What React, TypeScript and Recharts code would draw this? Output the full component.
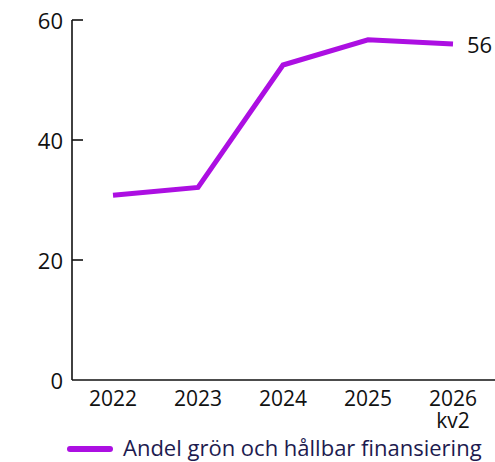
import { LineChart, Line, XAxis, YAxis, Legend, LabelList } from 'recharts'

const years = ['2022', '2023', '2024', '2025', '2026\nkv2']
const andelGron = [30.8, 32.1, 52.5, 56.7, 56]
const yTicks = [0, 20, 40, 60]

const LINE_COLOR = '#AC0FE2'
const FONT = '"Open Sans", sans-serif'

const data = years.map((name, i) => ({ name, value: andelGron[i] }))

const YTick = (props: any) => {
  const { x, y, payload } = props
  return (
    <g>
      {payload.value !== 0 && <line x1={x} x2={x + 11} y1={y} y2={y} stroke="#111" strokeWidth={1.6} />}
      <text x={x - 9} y={y} textAnchor="end" dominantBaseline="central" fontSize={22} fontFamily={FONT} fill="#111">
        {payload.value}
      </text>
    </g>
  )
}

const XTick = (props: any) => {
  const { x, y, payload } = props
  const lines = String(payload.value).split('\n')
  return (
    <text x={x} y={y} textAnchor="middle" fontSize={21} fontFamily={FONT} fill="#111">
      {lines.map((l, i) => (
        <tspan key={i} x={x} dy={i === 0 ? 18 : 22}>{l}</tspan>
      ))}
    </text>
  )
}

const LastLabel = (props: any) => {
  const { x, y, index, value } = props
  if (index !== andelGron.length - 1) return null
  return (
    <text x={x + 14} y={y} dominantBaseline="central" fontSize={22} fontFamily={FONT} fill="#111">
      {value}
    </text>
  )
}

const LegendContent = () => (
  <div style={{ display: 'flex', alignItems: 'center', height: 26, lineHeight: '26px', fontFamily: FONT, fontSize: 22, color: '#1d1b4f', whiteSpace: 'nowrap' }}>
    <span style={{ display: 'inline-block', width: 46, height: 6, borderRadius: 3, background: LINE_COLOR, marginRight: 10, position: 'relative', top: 2 }} />
    <span>Andel grön och hållbar finansiering</span>
  </div>
)

export default function App() {
  return (
    <div style={{ position: 'absolute', left: 0, top: 0, width: 495, height: 462, background: '#fff' }}>
      <LineChart width={495} height={462} data={data} margin={{ top: 20, right: 0, left: 0, bottom: 0 }}>
        <XAxis
          dataKey="name"
          interval={0}
          padding={{ left: 41, right: 42 }}
          tickLine={false}
          axisLine={{ stroke: '#111', strokeWidth: 1.6 }}
          tick={<XTick />}
          height={58}
        />
        <YAxis
          domain={[0, 60]}
          ticks={yTicks}
          width={72}
          tickLine={false}
          tickSize={0}
          tickMargin={0}
          axisLine={{ stroke: '#111', strokeWidth: 1.6 }}
          tick={<YTick />}
        />
        <Legend
          verticalAlign="bottom"
          height={24}
          content={<LegendContent />}
          wrapperStyle={{ top: 434, left: 67, bottom: 'auto', width: 'auto' }}
        />
        <Line
          type="linear"
          dataKey="value"
          stroke={LINE_COLOR}
          strokeWidth={5}
          dot={false}
          activeDot={false}
          isAnimationActive={false}
        >
          <LabelList dataKey="value" content={<LastLabel />} />
        </Line>
      </LineChart>
    </div>
  )
}
